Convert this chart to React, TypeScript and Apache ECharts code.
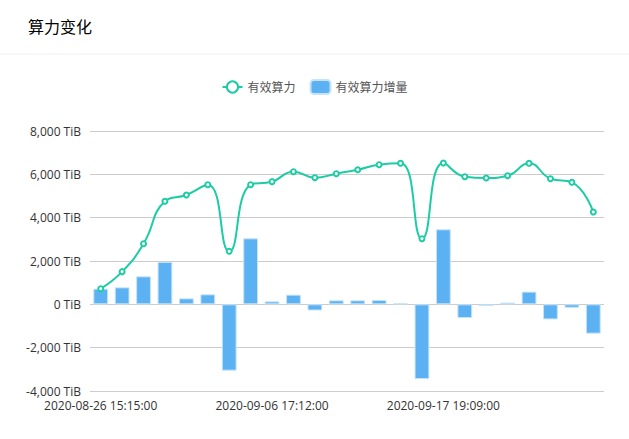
import React, { useEffect, useRef } from "react";
import * as echarts from "echarts";

const categories = [
  "2020-08-26 15:15:00",
  "2020-08-28 00:30:00",
  "2020-08-29 09:44:00",
  "2020-08-30 18:59:00",
  "2020-09-01 04:13:00",
  "2020-09-02 13:28:00",
  "2020-09-03 22:43:00",
  "2020-09-05 07:57:00",
  "2020-09-06 17:12:00",
  "2020-09-08 02:26:00",
  "2020-09-09 11:41:00",
  "2020-09-10 20:55:00",
  "2020-09-12 06:10:00",
  "2020-09-13 15:25:00",
  "2020-09-15 00:39:00",
  "2020-09-16 09:54:00",
  "2020-09-17 19:09:00",
  "2020-09-19 04:23:00",
  "2020-09-20 13:38:00",
  "2020-09-21 22:52:00",
  "2020-09-23 08:07:00",
  "2020-09-24 17:22:00",
  "2020-09-26 02:36:00",
  "2020-09-27 11:51:00",
];

const powerValues = [
  723, 1508, 2800, 4754, 5046, 5523, 2446, 5523, 5662, 6123, 5846, 6031,
  6215, 6446, 6508, 3031, 6523, 5892, 5831, 5938, 6508, 5800, 5631, 4262,
];

const increaseValues = [
  723, 785, 1292, 1954, 277, 462, -3060, 3046, 138, 446, -285, 185,
  185, 200, 46, -3450, 3462, -631, -77, 77, 586, -697, -160, -1352,
];

const seriesNames = ["有效算力", "有效算力增量"];
const yTicks = { min: -4000, max: 8000, interval: 2000 };

const FONT = "'Open Sans', 'Noto Sans CJK SC', sans-serif";

export default function App() {
  const ref = useRef<HTMLDivElement>(null);

  useEffect(() => {
    document.body.style.margin = "0";
    const chart = echarts.init(ref.current!, null, { renderer: "svg" });
    chart.setOption({
      animation: false,
      textStyle: { fontFamily: FONT },
      title: {
        text: "算力变化",
        left: 23,
        top: 14,
        textStyle: { fontSize: 16, fontWeight: "normal", color: "#000", fontFamily: FONT },
      },
      graphic: [
        {
          type: "line",
          shape: { x1: 0, y1: 54, x2: 629, y2: 54 },
          style: { stroke: "#edf1f5", lineWidth: 1 },
        },
      ],
      legend: {
        top: 74,
        left: "center",
        itemWidth: 20,
        itemHeight: 14,
        itemGap: 14,
        textStyle: { fontSize: 12, color: "#555", fontFamily: FONT },
        data: [
          { name: seriesNames[0] },
          { name: seriesNames[1] },
        ],
      },
      grid: { left: 90, right: 25, top: 131, bottom: 48, containLabel: false },
      xAxis: {
        type: "category",
        data: categories,
        boundaryGap: true,
        axisLine: { show: false },
        axisTick: { show: false },
        axisLabel: {
          interval: 7,
          color: "#333",
          fontSize: 12,
          lineHeight: 13,
          margin: 8,
          fontFamily: FONT,
        },
      },
      yAxis: {
        type: "value",
        min: yTicks.min,
        max: yTicks.max,
        interval: yTicks.interval,
        axisLine: { show: false },
        axisTick: { show: false },
        splitLine: { lineStyle: { color: "#cccccc" } },
        axisLabel: {
          color: "#333",
          fontSize: 12,
          lineHeight: 13,
          margin: 9,
          fontFamily: FONT,
          formatter: (v: number) => {
            const s = Math.abs(v).toString().replace(/\B(?=(\d{3})+(?!\d))/g, ",");
            return (v < 0 ? "-" : "") + s + " TiB";
          },
        },
      },
      series: [
        {
          name: seriesNames[0],
          type: "line",
          data: powerValues,
          smooth: true,
          symbol: "emptyCircle",
          symbolSize: 5,
          z: 3,
          lineStyle: { color: "#1dcca4", width: 2 },
          itemStyle: { color: "#1dcca4", borderColor: "#3fd9b8" },
        },
        {
          name: seriesNames[1],
          type: "bar",
          data: increaseValues,
          z: 2,
          itemStyle: { color: "#5bb1f1", borderColor: "#c5e3fb", borderWidth: 1 },
        },
      ],
    });
    return () => chart.dispose();
  }, []);

  return (
    <div
      ref={ref}
      style={{ position: "absolute", left: 0, top: 0, width: 629, height: 439, background: "#fff" }}
    />
  );
}
